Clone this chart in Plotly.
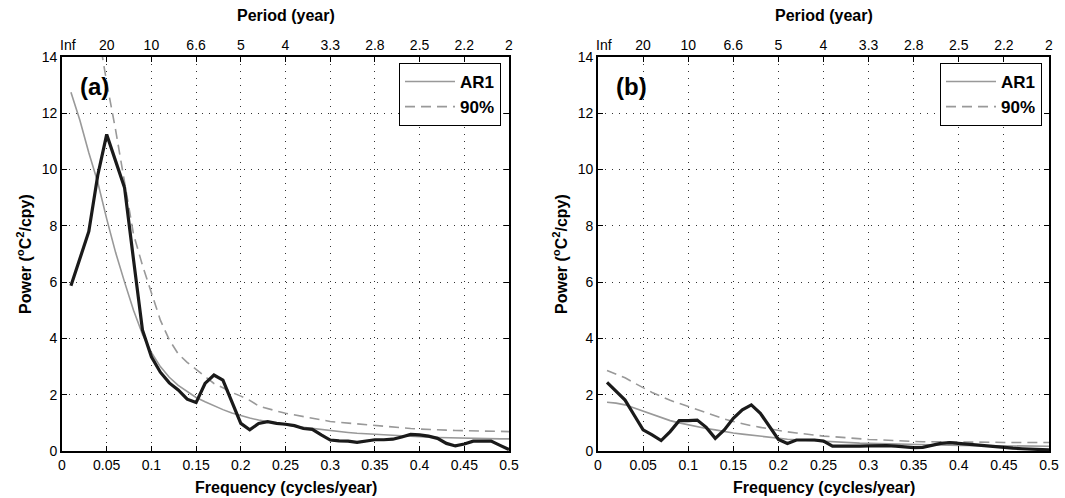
import plotly.graph_objects as go

freq = [0.01, 0.02, 0.03, 0.04, 0.05, 0.06, 0.07, 0.08, 0.09, 0.10,
        0.11, 0.12, 0.13, 0.14, 0.15, 0.16, 0.17, 0.18, 0.19, 0.20,
        0.21, 0.22, 0.23, 0.24, 0.25, 0.26, 0.27, 0.28, 0.29, 0.30,
        0.31, 0.32, 0.33, 0.34, 0.35, 0.36, 0.37, 0.38, 0.39, 0.40,
        0.41, 0.42, 0.43, 0.44, 0.45, 0.46, 0.47, 0.48, 0.49, 0.50]

# Panel (a)
power_a = [5.87, 6.8, 7.8, 9.8, 11.25, 10.3, 9.35, 6.8, 4.3, 3.35,
           2.8, 2.42, 2.17, 1.84, 1.72, 2.4, 2.7, 2.52, 1.75, 0.98,
           0.75, 0.98, 1.04, 0.98, 0.95, 0.9, 0.8, 0.77, 0.57, 0.39,
           0.36, 0.35, 0.31, 0.35, 0.4, 0.4, 0.42, 0.5, 0.59, 0.57,
           0.53, 0.45, 0.27, 0.18, 0.25, 0.35, 0.35, 0.35, 0.2, 0.05]
ar1_a = [12.75, 11.75, 10.6, 9.55, 8.25, 7.05, 6.0, 5.0, 4.15, 3.5,
         3.0, 2.62, 2.33, 2.1, 1.9, 1.75, 1.6, 1.47, 1.35, 1.25,
         1.17, 1.1, 1.04, 0.98, 0.93, 0.88, 0.84, 0.8, 0.76, 0.72,
         0.69, 0.66, 0.63, 0.61, 0.59, 0.57, 0.55, 0.53, 0.51, 0.5,
         0.49, 0.48, 0.47, 0.46, 0.45, 0.44, 0.44, 0.43, 0.43, 0.43]
p90_a = [20.4, 18.8, 17.0, 15.0, 13.1, 11.4, 9.6, 7.7, 6.6, 5.6,
         4.65, 3.95, 3.45, 3.15, 2.9, 2.65, 2.4, 2.25, 2.08, 1.95,
         1.8, 1.6, 1.5, 1.42, 1.34, 1.28, 1.22, 1.16, 1.1, 1.05,
         1.02, 0.99, 0.96, 0.93, 0.9, 0.87, 0.85, 0.82, 0.8, 0.78,
         0.76, 0.75, 0.74, 0.73, 0.72, 0.71, 0.7, 0.7, 0.69, 0.69]

# Panel (b)
power_b = [2.44, 2.11, 1.81, 1.28, 0.75, 0.57, 0.37, 0.69, 1.08, 1.08,
           1.1, 0.84, 0.45, 0.75, 1.16, 1.46, 1.64, 1.34, 0.86, 0.41,
           0.27, 0.39, 0.39, 0.39, 0.35, 0.17, 0.17, 0.16, 0.17, 0.18,
           0.19, 0.19, 0.17, 0.14, 0.12, 0.13, 0.2, 0.27, 0.3, 0.27,
           0.23, 0.2, 0.17, 0.15, 0.12, 0.1, 0.08, 0.07, 0.05, 0.04]
ar1_b = [1.73, 1.70, 1.64, 1.53, 1.42, 1.30, 1.18, 1.08, 1.0, 0.93,
         0.86, 0.80, 0.75, 0.69, 0.64, 0.60, 0.56, 0.52, 0.48, 0.45,
         0.42, 0.40, 0.38, 0.36, 0.34, 0.33, 0.31, 0.30, 0.28, 0.27,
         0.26, 0.25, 0.24, 0.235, 0.23, 0.22, 0.215, 0.21, 0.205, 0.2,
         0.195, 0.19, 0.185, 0.18, 0.18, 0.175, 0.175, 0.17, 0.17, 0.17]
p90_b = [2.86, 2.74, 2.6, 2.42, 2.24, 2.08, 1.94, 1.8, 1.69, 1.58,
         1.46, 1.35, 1.24, 1.14, 1.05, 0.97, 0.9, 0.84, 0.78, 0.72,
         0.68, 0.64, 0.6, 0.57, 0.53, 0.51, 0.48, 0.46, 0.43, 0.41,
         0.4, 0.38, 0.36, 0.35, 0.34, 0.33, 0.33, 0.32, 0.32, 0.31,
         0.31, 0.31, 0.31, 0.31, 0.3, 0.3, 0.3, 0.3, 0.3, 0.3]

freq_ticks = [0, 0.05, 0.1, 0.15, 0.2, 0.25, 0.3, 0.35, 0.4, 0.45, 0.5]
freq_labels = ["0", "0.05", "0.1", "0.15", "0.2", "0.25", "0.3", "0.35", "0.4", "0.45", "0.5"]
period_labels = ["\u00a0\u00a0\u00a0Inf", "20", "10", "6.6", "5", "4", "3.3", "2.8", "2.5", "2.2", "2"]
power_ticks = [0, 2, 4, 6, 8, 10, 12, 14]

FONT = "Liberation Sans, Arial, Helvetica, sans-serif"
W, H = 1065, 498
dom_a = [62 / W, 509 / W]
dom_b = [598 / W, 1049 / W]
dom_y = [1 - 451 / H, 1 - 57 / H]

fig = go.Figure()

def add_panel(xa, ya, power, ar1, p90, legend):
    fig.add_trace(go.Scatter(x=freq, y=ar1, mode="lines", name="AR1",
                             line=dict(color="#999999", width=1.6),
                             xaxis=xa, yaxis=ya, legend=legend))
    fig.add_trace(go.Scatter(x=freq, y=p90, mode="lines", name="90%",
                             line=dict(color="#999999", width=1.6, dash="10px,6px"),
                             xaxis=xa, yaxis=ya, legend=legend))
    fig.add_trace(go.Scatter(x=freq, y=power, mode="lines", name="power",
                             line=dict(color="#1a1a1a", width=3.2),
                             xaxis=xa, yaxis=ya, showlegend=False))

add_panel("x", "y", power_a, ar1_a, p90_a, "legend")
add_panel("x2", "y2", power_b, ar1_b, p90_b, "legend2")

tickfont = dict(family=FONT, size=14, color="black")
common_x = dict(range=[0, 0.5], tickmode="array", tickvals=freq_ticks, ticktext=freq_labels,
                ticks="inside", ticklen=5, tickcolor="black", showline=True, linecolor="black",
                linewidth=1.8, mirror=True, showgrid=True, gridcolor="#333333", gridwidth=1,
                griddash="1px,6px", zeroline=False, tickfont=tickfont, fixedrange=True,
                automargin=False)
common_y = dict(range=[0, 14], tickmode="array", tickvals=power_ticks,
                ticks="inside", ticklen=5, tickcolor="black", showline=True, linecolor="black",
                linewidth=1.8, mirror="ticks", showgrid=True, gridcolor="#333333", gridwidth=1,
                griddash="1px,6px", zeroline=False, tickfont=tickfont, fixedrange=True,
                automargin=False)
common_top = dict(range=[0, 0.5], tickmode="array", tickvals=freq_ticks, ticktext=period_labels,
                  ticks="inside", ticklen=5, tickcolor="black", side="top", showgrid=False,
                  showline=False, zeroline=False, tickfont=tickfont, fixedrange=True,
                  automargin=False, ticklabelstandoff=3)

legend_style = dict(bgcolor="white", bordercolor="black", borderwidth=1,
                    font=dict(family=FONT, size=17, color="black", weight="bold"),
                    xanchor="right", yanchor="top", itemwidth=50, tracegroupgap=0)

fig.update_layout(
    width=W, height=H, margin=dict(l=0, r=0, t=0, b=0, autoexpand=False),
    paper_bgcolor="white", plot_bgcolor="white",
    font=dict(family=FONT, color="black"),
    xaxis=dict(domain=dom_a, anchor="y", **common_x),
    yaxis=dict(domain=dom_y, anchor="x", **common_y),
    xaxis2=dict(domain=dom_b, anchor="y2", **common_x),
    yaxis2=dict(domain=dom_y, anchor="x2", **common_y),
    xaxis3=dict(overlaying="x", anchor="y", **common_top),
    xaxis4=dict(overlaying="x2", anchor="y2", **common_top),
    legend=dict(x=501 / W, y=1 - 63 / H, **legend_style),
    legend2=dict(x=1042 / W, y=1 - 63 / H, **legend_style),
    showlegend=True,
)

# invisible helper traces so the top (period) axes are drawn
fig.add_trace(go.Scatter(x=freq, y=power_a, xaxis="x3", yaxis="y", mode="lines",
                         line=dict(width=0), opacity=0, showlegend=False, hoverinfo="skip"))
fig.add_trace(go.Scatter(x=freq, y=power_b, xaxis="x4", yaxis="y2", mode="lines",
                         line=dict(width=0), opacity=0, showlegend=False, hoverinfo="skip"))

ann = []
for dom, ylabx, panel in [(dom_a, 24 / W, "(a)"), (dom_b, 560 / W, "(b)")]:
    cx = (dom[0] + dom[1]) / 2
    ann.append(dict(text="<b>Period (year)</b>", x=cx, y=1 - 15 / H, xref="paper", yref="paper",
                    xanchor="center", yanchor="middle",
                    showarrow=False, font=dict(family=FONT, size=16, color="black")))
    ann.append(dict(text="<b>Frequency (cycles/year)</b>", x=cx, y=1 - 487 / H, xref="paper",
                    yref="paper", xanchor="center", yanchor="middle",
                    showarrow=False, font=dict(family=FONT, size=16, color="black")))
    ann.append(dict(text="<b>Power (<sup>o</sup>C<sup>2</sup>/cpy)</b>", x=ylabx,
                    y=(dom_y[0] + dom_y[1]) / 2, xref="paper", yref="paper", textangle=-90,
                    xanchor="center", yanchor="middle",
                    showarrow=False, font=dict(family=FONT, size=16, color="black")))
    ann.append(dict(text="<b>" + panel + "</b>", x=dom[0] + 16 / W, y=1 - 86 / H, xref="paper",
                    yref="paper", xanchor="left", yanchor="middle", showarrow=False,
                    font=dict(family=FONT, size=24, color="black")))
fig.update_layout(annotations=ann)

fig.write_html("out.html", config={"displayModeBar": False},
               post_script="document.body.style.margin='0px';")
